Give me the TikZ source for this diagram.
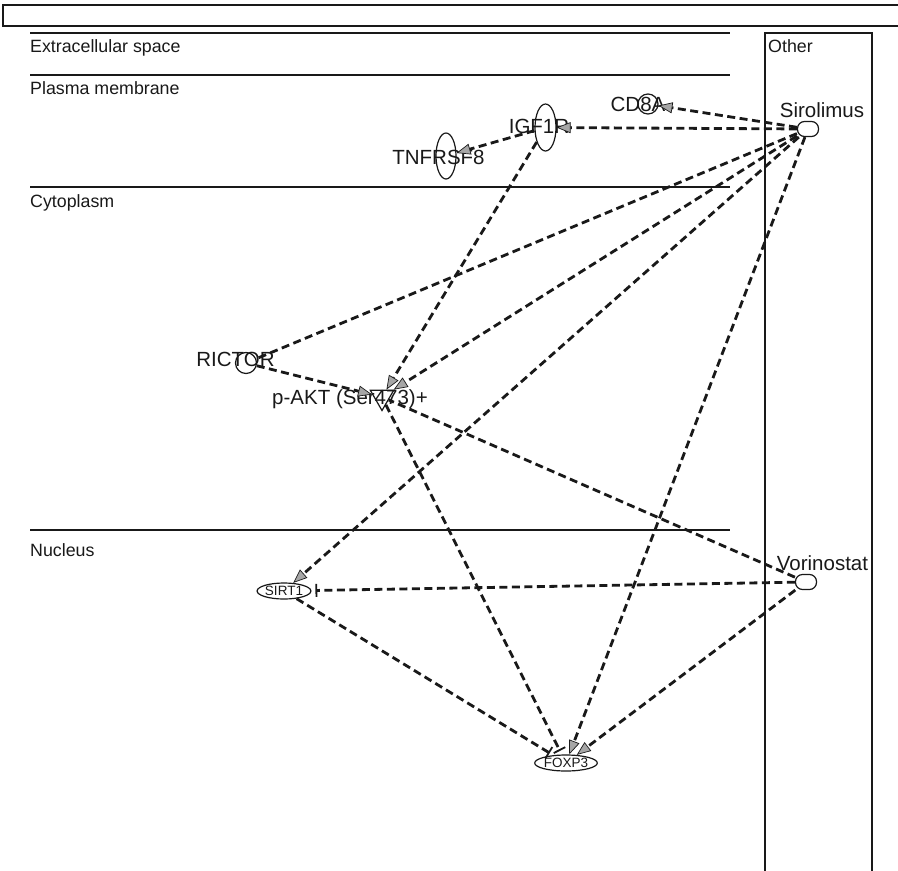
\documentclass[tikz,border=0pt]{standalone}
\usepackage{fontspec}
\setmainfont{Liberation Sans}
\usetikzlibrary{arrows.meta,shapes.geometric}
\begin{document}
\begin{tikzpicture}[x=1pt,y=-1pt,
  comp/.style={anchor=base west,inner sep=0pt,font=\fontsize{17.8}{20}\selectfont,text=black!90},
  lab/.style={inner sep=0pt,font=\fontsize{20.5}{24}\selectfont,text=black!90},
  shp/.style={draw=black!90,line width=1.2pt,inner sep=0pt},
  ell/.style={shp,ellipse},
  pill/.style={shp,rectangle,rounded corners=7pt,minimum width=21pt,minimum height=15pt},
  small/.style={font=\fontsize{13.5}{15}\selectfont,text=black!90},
  edge/.style={draw=black!90,line width=2.8pt,dash pattern=on 8pt off 4.5pt},
  act/.style={edge,-{Triangle[length=14pt,width=11pt,fill=gray!70,line width=0.7pt]}},
  inh/.style={edge,-{Bar[width=13pt,line width=1.8pt]},shorten >=4pt},
  sep/.style={draw=black!90,line width=1.4pt},
]
\useasboundingbox (0,0) rectangle (898,871);
% frame pieces
\draw[sep] (3,5) rectangle (905,26);
\draw[sep] (30,33) coordinate (l1a) -- (730,33) coordinate (l1b);
\draw[sep] (30,75) coordinate (l2a) -- (730,75) coordinate (l2b);
\draw[sep] (30,187) coordinate (l3a) -- (730,187) coordinate (l3b);
\draw[sep] (30,530) coordinate (l4a) -- (730,530) coordinate (l4b);
\draw[sep] (765,880) -- (765,33) -- (872,33) -- (872,880);
% compartment labels
\node[comp] (cExt) at (30,52) {Extracellular space};
\node[comp] (cPM) at (30,94) {Plasma membrane};
\node[comp] (cCyt) at (30,207) {Cytoplasm};
\node[comp] (cNuc) at (30,556) {Nucleus};
\node[comp] (cOth) at (768,52) {Other};
% shapes
\node[pill] (sir) at (808,129) {};
\node[pill] (vor) at (806,582) {};
\node[shp,circle,minimum size=20pt] (cd8) at (648,104) {};
\node[ell,minimum width=21pt,minimum height=47pt] (igf) at (545.5,127.5) {};
\node[ell,minimum width=20pt,minimum height=46pt] (tnf) at (446,156) {};
\node[shp,circle,minimum size=21pt] (ric) at (246,363) {};
\node[shp,regular polygon,regular polygon sides=3,shape border rotate=180,minimum size=27pt] (akt) at (382,397) {};
\node[ell,minimum width=45pt,minimum height=16pt,small] (sirt) at (284,591) {SIRT1};
\node[ell,minimum width=50pt,minimum height=16pt,small] (fox) at (566,763) {FOXP3};
% labels
\node[lab] (tCD8) at (638,104) {CD8A};
\node[lab] (tIGF) at (539,126) {IGF1R};
\node[lab] (tTNF) at (438.5,157) {TNFRSF8};
\node[lab] (tSIR) at (822,110) {Sirolimus};
\node[lab] (tRIC) at (235.5,359) {RICTOR};
\node[lab] (tAKT) at (350,399) {p-AKT (Ser473)+};
\node[lab] (tVOR) at (822.5,563) {Vorinostat};
% edges
\draw[act] (sir) -- (cd8);
\draw[act] (sir) -- (igf);
\draw[act] (igf) -- (tnf);
\draw[act] (igf) -- (akt);
\draw[edge] (sir) -- (ric);
\draw[act] (ric) -- (akt);
\draw[act] (sir) -- (akt);
\draw[act] (sir) -- (sirt);
\draw[act] (sir) -- (fox);
\draw[edge] (vor) -- (akt);
\draw[inh] (vor) -- (sirt);
\draw[act] (vor) -- (fox);
\draw[inh] (sirt) -- (fox);
\draw[inh] (akt) -- (fox);
\end{tikzpicture}
\end{document}
